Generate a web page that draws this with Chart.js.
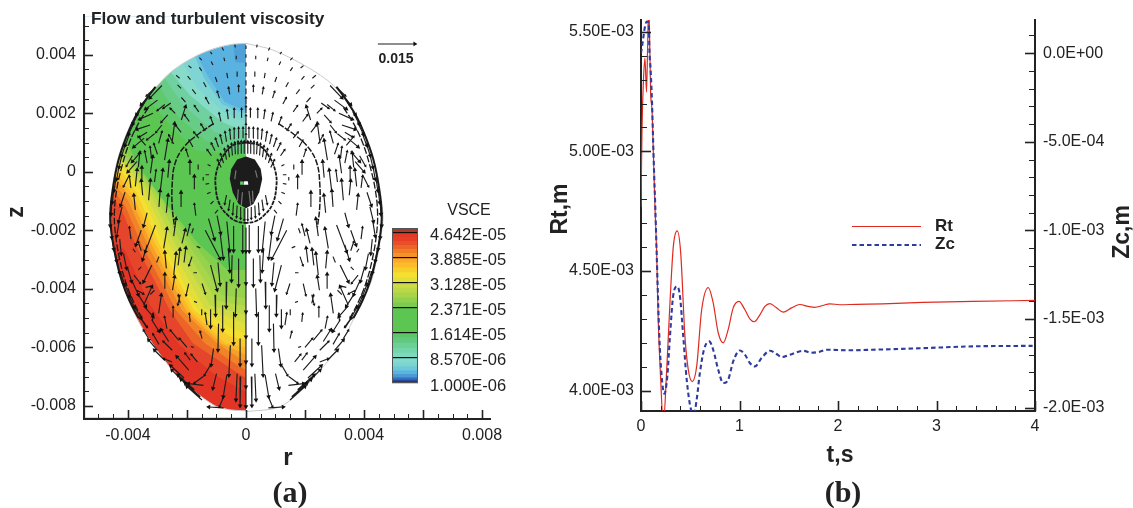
<!DOCTYPE html>
<html><head><meta charset="utf-8">
<script src="https://cdn.jsdelivr.net/npm/chart.js@4"></script>
<style>
html,body{margin:0;padding:0;background:#fff;width:1133px;height:508px;overflow:hidden}
.p{position:absolute}
</style></head><body>
<div class="p" style="left:0;top:0;width:520px;height:508px"><canvas id="a"></canvas></div>
<div class="p" style="left:385px;top:200px;width:125px;height:200px"><canvas id="cb"></canvas></div>
<div class="p" style="left:540px;top:0;width:593px;height:508px"><canvas id="b"></canvas></div>
<script>
// ---------- panel (b) : time traces ----------
const rtTime=[0,.01,.025,.04,.056,.068,.076,.084,.098,.112,.125,.142,.159,.175,.2,.226,.261,.294,.328,.368,.403,.446,.48,.52,.565,.616,.683,.733,.784,.835,.885,.936,.994,1.055,1.105,1.149,1.207,1.258,1.308,1.376,1.443,1.528,1.613,1.697,1.765,1.846,1.917,2.018,2.188,2.454,2.86,3.367,4];
const rtValues=[4.768,5.089,5.298,5.39,5.248,5.453,5.59,5.54,5.244,5.173,5.0,4.768,4.576,4.296,4.046,3.858,4.088,4.367,4.602,4.668,4.576,4.227,4.088,4.038,4.101,4.338,4.431,4.367,4.242,4.2,4.255,4.346,4.373,4.338,4.3,4.288,4.317,4.352,4.364,4.346,4.328,4.346,4.36,4.352,4.348,4.356,4.363,4.359,4.361,4.363,4.369,4.373,4.377];
const zcTime=[0,.016,.04,.058,.071,.081,.084,.098,.112,.122,.132,.145,.159,.186,.21,.236,.267,.294,.328,.368,.396,.429,.464,.504,.538,.565,.598,.639,.693,.733,.784,.835,.885,.936,1.004,1.055,1.105,1.156,1.224,1.308,1.376,1.427,1.511,1.646,1.731,1.815,1.883,2.119,2.353,2.86,3.367,3.976];
const zcValues=[0,.0575,.149,.178,.176,.149,.046,-.095,-.281,-.471,-.658,-.867,-1.126,-1.598,-1.824,-1.921,-1.824,-1.598,-1.363,-1.316,-1.373,-1.598,-1.842,-2.002,-2.034,-1.955,-1.803,-1.673,-1.626,-1.673,-1.786,-1.861,-1.842,-1.739,-1.677,-1.701,-1.748,-1.767,-1.72,-1.679,-1.697,-1.714,-1.701,-1.679,-1.69,-1.684,-1.673,-1.676,-1.673,-1.664,-1.654,-1.651];
const rtLabels=['4.00E-03','4.50E-03','5.00E-03','5.50E-03'];
const zcLabels=['-2.0E-03','-1.5E-03','-1.0E-03','-5.0E-04','0.0E+00'];

// ---------- panel (a) : colour bands, r and z in units of 1e-3 ----------
const outlineLeftR=[0,-.45,-.88,-1.28,-1.67,-2.08,-2.47,-2.77,-3.03,-3.33,-3.59,-3.83,-4.04,-4.23,-4.38,-4.48,-4.54,-4.58,-4.59,-4.57,-4.51,-4.41,-4.27,-4.07,-3.83,-3.56,-3.25,-2.93,-2.58,-2.2,-1.8,-1.4,-.99,-.5,0];
const outlineLeftZ=[4.39,4.36,4.27,4.14,3.97,3.74,3.47,3.2,2.91,2.57,2.2,1.77,1.32,.8,.3,-.2,-.63,-1,-1.41,-1.95,-2.44,-3.03,-3.59,-4.17,-4.73,-5.26,-5.75,-6.22,-6.67,-7.08,-7.46,-7.77,-8.03,-8.14,-8.17];
const outlineRightR=[0,.92,2.06,2.95,3.75,4.34,4.64,4.58,4.24,3.66,3.15,2.06,1.15,0];
const outlineRightZ=[4.39,4.16,3.59,2.96,1.88,.4,-1.41,-2.16,-3.76,-5,-5.98,-7.29,-8.03,-8.2];
const bandColors=['#59b2e0','#6ac4dc','#7fd4d4','#86dcc8','#6fd0a0','#66cc86','#5fc96c','#5cc653','#84ce4e','#96d24c','#a8d64a','#bcd948','#cfdc45','#e3de3a','#f4e030','#f8cc2c','#fbb92a','#f6a029','#f28428','#ec6428','#e5452a','#e23525'];
const bandR=[
[-.44,-.37,0],[-1.8,-1.29,-.71,0],[-1.9,-1.42,-.81,0],[-2.31,-1.63,-.75,0],[-2.75,-1.9,-.81,0],[-2.9,-2.1,-1.1,-.3,0],
[-3.08,-2.31,-1.39,-.71,0],[-3.42,-2.58,-1.73,0],[-4.34,-3.66,-2.92,-1.63,-.61,0],[-4.48,-3.76,-3,-1.8,-.71,0],[-4.61,-3.86,-3.08,-1.97,-.81,0],[-4.7,-3.93,-3.2,-2.19,-1,0],
[-4.78,-4,-3.32,-2.41,-1.22,0],[-4.86,-4.1,-3.45,-2.61,-1.42,-.5,0],[-4.95,-4.2,-3.59,-2.81,-1.63,-.37,0],[-4.95,-4.27,-3.71,-2.95,-1.76,-.54,0],[-4.95,-4.34,-3.83,-3.08,-1.9,-.71,0],[-4.95,-4.39,-3.91,-3.22,-2.03,-.85,0],
[-4.95,-4.44,-4,-3.36,-2.17,-.98,0],[-4.95,-4.49,-4.07,-3.56,-2.37,-1.39,-.3,0],[-4.95,-4.54,-4.14,-3.76,-2.58,-1.8,-.54,0],[-4.95,-4.1,-3.25,-2.24,-1.05,0]];
const bandZ=[
[4.5,3.75,3.72],[4.26,3.27,2.38,2.08],[4.33,3.2,2.31,1.97],[3.99,2.86,2.04,1.7],[3.65,2.62,1.7,1.36],[3.4,2.25,1.39,1.05,1.05],
[3.14,1.9,1.08,.81,.74],[2.62,1.6,.74,.57],[1.6,.23,-.8,-2.44,-3.36,-3.36],[1.34,.23,-.71,-2.44,-3.8,-3.85],[1.08,.23,-.63,-2.44,-4.22,-4.32],[.91,.23,-.63,-2.44,-4.4,-4.6],
[.74,.23,-.63,-2.44,-4.56,-4.9],[.57,.23,-.63,-2.44,-4.65,-5,-5.2],[.4,.23,-.63,-2.44,-4.73,-5.41,-5.52],[.23,.06,-.71,-2.44,-4.73,-5.63,-5.76],[.06,-.11,-.8,-2.44,-4.73,-5.86,-6],[-.11,-.28,-.88,-2.44,-4.73,-5.86,-6.25],
[-.28,-.45,-.97,-2.44,-4.73,-5.86,-6.51],[-.45,-.62,-1.22,-2.44,-4.73,-5.86,-6.6,-6.78],[-.63,-.8,-1.48,-2.44,-4.73,-5.86,-6.71,-7.05],[-1.99,-2.68,-4.56,-5.93,-6.95,-7.53]];
const coreR=[0,.3,.5,.55,.45,.25,0];
const coreZ=[.52,.42,.1,-.25,-.7,-1.1,-1.25];
const ringA=[[1.1,1.65],[1.6,1.3],[2.1,.85],[2.4,.3],[2.5,-.4],[2.5,-1.2],[2.42,-1.9]];
const ringB=[[0,1],[.45,.9],[.8,.5],[1,0],[1.03,-.5],[.9,-1.1],[.6,-1.5],[.3,-1.7],[0,-1.75]];
const ringEdge=[[3.07,2.9],[3.4,2.45],[3.75,1.88],[4.05,1.2],[4.32,.4],[4.5,-.5],[4.6,-1.42],[4.55,-2.16],[4.4,-3],[4.2,-3.76],[3.95,-4.4],[3.64,-5]];
const ringEdgeInner=[[3.3,2.2],[3.62,1.7],[3.95,1],[4.2,.2],[4.38,-.6],[4.46,-1.42],[4.42,-2.16],[4.28,-3],[4.08,-3.76],[3.83,-4.4],[3.5,-5.05]];
const coreStripes=[[.1,-.65,.06,-.5],[.22,-.65,.02,-.4],[-.12,-.7,-.04,-.45],[-.26,-.6,-.03,-.4],[.32,.05,.06,-.25],[-.34,.05,-.04,-.3]];

// ---------- velocity vectors, right half [r, z, dr, dz]; the left half mirrors it ----------
const flowTop=[[.36,4.25,.02,.1],[.76,4.15,.05,.1],[1.15,4.02,.06,.08],[1.5,3.82,.08,.08],[1.85,3.55,.1,.08],[2.25,3.2,.12,.1],
[.33,3.85,0,.12],[.72,3.78,.03,.12],[1.12,3.65,.06,.12],[1.5,3.45,.08,.12],[1.88,3.15,.1,.12],[2.2,2.85,.12,.12],
[.3,3.25,0,.18],[.62,3.2,.03,.18],[.98,3.07,.06,.17],[1.35,2.9,.09,.16],[1.7,2.66,.12,.16],[2.05,2.38,.14,.16],[2.4,2,.16,.16],
[.25,2.72,0,.22],[.55,2.65,.04,.22],[.9,2.52,.07,.22],[1.25,2.32,.11,.2],[1.6,2.05,.14,.2],[1.92,1.72,.16,.22],[2.2,1.35,.18,.24],[2.45,.95,.16,.3],
[.15,1.85,0,.3],[.38,1.85,.02,.3],[.6,1.8,.04,.3],[.85,1.72,.06,.28],[1.1,1.6,.1,.26],[1.38,1.4,.14,.22],[1.6,1.15,.16,.2],[1.8,.85,.12,.22],[1.95,.5,.08,.26]];
const flowHatch=[[.1,1.15,0,.35],[.24,1.15,.01,.35],[.38,1.13,.02,.35],[.52,1.1,.03,.34],[.66,1.03,.05,.33],[.8,.95,.07,.3],[.93,.85,.1,.28],[1.05,.72,.12,.25],[1.17,.55,.14,.2],
[.06,.62,0,.42],[.16,.62,0,.42],[.26,.61,.01,.42],[.36,.6,.02,.4],[.46,.56,.03,.4],[.56,.5,.05,.38],[.66,.42,.07,.36],[.76,.3,.1,.3],[.84,.15,.12,.25],
[1.2,.2,.1,.05],[1.25,-.1,.12,0],[1.25,-.4,.12,-.02],[1.2,-.7,.12,-.05],[1.1,-1,.1,-.1],[.95,-1.3,.1,-.12],
[.06,-1.25,0,-.4],[.18,-1.2,0,-.4],[.3,-1.15,.02,-.4],[.42,-1.05,.03,-.4],[.54,-.95,.05,-.35],[.66,-.8,.06,-.3]];
const flowAxis=[[0,-1.9,0,-.83],[0,-2.73,0,-1.09],[0,-3.82,0,-.97],[0,-4.79,0,-.85],[0,-5.64,0,-.86],[0,-6.5,0,-.85],[0,-7.35,0,-.68],
[0,4.2,0,.12],[0,3.9,0,.12],[0,3.6,0,.14],[0,3.25,0,.16],[0,2.95,0,.18],[0,2.65,0,.2],[0,2.3,0,.24],[0,2,0,.24],[0,1.65,0,.28],[0,1.35,0,.28],[0,1,0,.3]];
const flowDown=[[.11,-1.82,0,-.91],[.25,-2.96,0,-.93],[.47,-2.85,.02,-.88],[.42,-1.85,0,-.85],[.87,-2.16,-.1,-.8],[1.27,-1.6,-.2,-.7],[.65,-3.76,.02,-.86],[.33,-3.99,.03,-.91],[.79,-4.56,0,-.85],[.93,-5.19,.02,-.91],[.42,-4.79,0,-1.08],[.53,-5.93,.05,-1.03],[.65,-6.95,.12,-.74],[.76,-7.69,.14,-.34],[1.1,-6.04,.08,-.57],[1.21,-6.61,.2,-.35],[1.45,-7,.3,-.22],[1.38,-2,-.5,-.97],[1.2,-3.19,-.22,-.85],[.65,-1.7,-.1,-1],[.98,-1.5,-.12,-.6],
[1.05,-4.2,-.02,-.7],[1.2,-4.7,0,-.6],[.6,-2.6,-.05,-.8],[.2,-5.7,0,-.9],[.3,-6.9,.04,-.9],[.95,-3.1,-.07,-.75],[1.5,-4.7,0,-.2],[1,-6.9,.12,-.5],[.18,-7,.02,-1]];
const flowBottom=[[.76,-8.07,.5,.03],[1.49,-7.8,.51,.46],[1.55,-7.69,.51,.46],[1.44,-7.3,.51,.06],[2.06,-7.24,.45,.46],[2.5,-6.5,.28,.11],[1.94,-6.78,.4,.46],[1.89,-6.44,.17,.23],[2.28,-5.76,.28,.34],[2.62,-5.8,.25,.4],[3.3,-5.7,.17,.28],[2.1,-7.05,.45,.42],
[2.95,-5.9,.2,.35],[2.5,-6.1,.3,.3],[2,-6,.25,.3],[1.65,-6.5,.2,.25],[2.75,-6.45,.35,.35],[3,-6.1,.3,.35],[1.75,-7.45,.55,.5],[1.7,-7.55,.5,.45],[3.35,-5.35,.22,.35]];
const flowMid=[[2.79,-2.62,-.11,.68],[2.17,-2.45,-.11,.46],[2.45,-3.53,-.08,.74],[2.49,-4.05,-.07,.46],[2.96,-4.84,-.09,.63],[3.47,-4.56,-.28,.63],[3.17,-5.13,-.02,.28],[2.68,-5.36,.08,.4],[2.23,-4.5,.06,.28],[2.45,-4.96,.02,.34],[1.89,-5.13,.03,.28],[1.32,-5.24,.06,.4],[1.49,-5.7,.06,.23],[1.49,-3.82,-.11,-.34],[1.55,-2.6,.12,.05],[1.66,-3.45,.12,0],[1.66,-4.47,.1,.04],[1.77,-6,.1,.03],[1.83,-2.9,.1,-.3],[1.78,-1.93,.06,-.17],[1.94,-3.82,.09,-.4],[2.23,-4.2,.08,-.34],
[2.51,.97,-.09,.68],[2.76,.4,-.11,.68],[2.96,.97,-.11,.4],[3.24,-.05,-.08,.57],[2.9,-.62,-.08,.68],[3.3,-.97,-.06,.68],[2.19,1.77,-.14,.46],[3.75,-.5,-.06,.57],
[3.07,-1.82,.34,-.91],[3.19,-3.19,.28,-.57],[3.8,-3.53,-.22,-.28],[3.7,-4.05,-.22,-.12],[3.4,.9,.25,.3],[3.65,.15,-.05,.5],[3.5,-.8,.05,.5],[3.75,-1.3,.05,.5],[2.7,-1.4,-.06,.6],[2.2,-1.2,0,.5],[1.75,-.6,0,.45],[1.7,-1.5,.05,.4],[3.9,-2.3,.05,.4],[3.55,-2.7,.1,.3],
[3.35,1.35,.25,-.15],[3.1,1.3,.25,-.2],[2.85,1.6,.2,-.25],[2.65,1.95,.22,-.25],[2.55,2.35,.25,-.18],[2.75,2.3,.25,-.2],[3,.6,.12,.35],[3.35,.3,.08,.4],[3.85,.55,.2,-.35],[3.9,-.55,.05,.4],[3.1,-.35,-.05,.4],[2.65,-.2,-.05,.55],[3.55,-.3,-.02,.45],[3.2,.45,.05,.4],
[2.95,-1.2,-.04,.55],[2.45,-2.2,-.08,.6],[2.95,-2.9,.08,-.2],[3.35,-1.4,.12,-.45],[3.55,-2,.18,-.5],[3.35,-2.5,.15,-.5],[3.75,-2.75,.08,.12],[3.65,-3.35,-.1,.1],[3.4,-3.95,-.2,.05],[3.25,-4.2,-.15,.15],[2.7,-3.3,.05,.55],[2.75,-4,0,.5],[2.1,-3.1,-.06,.5],[2.3,-3.2,-.06,.55],[2,-2.2,-.1,.4],[1.9,-.1,0,.45],[1.45,-.3,0,.12],[1.6,.1,.02,.15]];
const flowEdge=[[3.05,2.9,.32,-.3],[3.25,2.65,.3,-.35],[3.45,2.35,.26,-.4],[3.62,2.05,.22,-.42],[3.78,1.7,.2,-.42],[3.93,1.35,.16,-.45],[4.07,1,.14,-.45],[4.2,.6,.1,-.45],[4.3,.2,.08,-.45],[4.4,-.2,.07,-.45],[4.48,-.6,.05,-.45],[4.55,-1,.02,-.45],[4.6,-1.4,0,-.45],[4.58,-1.8,-.03,-.45],[4.54,-2.2,-.06,-.45],[4.46,-2.6,-.08,-.45],[4.38,-3,-.1,-.45],[4.26,-3.4,-.14,-.45],[4.12,-3.8,-.17,-.45],[3.98,-4.2,-.2,-.42],[3.78,-4.6,-.22,-.4],[3.6,-4.95,-.25,-.35],
[2.85,2.95,.4,-.42],[3,2.45,.4,-.3],[3.15,2,.45,-.2],[3.25,1.6,.45,-.15],[3.45,1.15,.35,-.3],[3.55,.7,.3,-.35],[3.7,.35,.3,-.35],[3.95,-.1,.2,-.4],[4.1,-.7,.15,-.45],[4.2,-1.2,.12,-.5],[4.3,-1.7,.08,-.5],[4.28,-2.3,-.05,-.5],[4.15,-2.8,-.1,-.5],[4.02,-3.25,-.14,-.5],[3.85,-3.75,-.2,-.45],[3.65,-4.2,-.25,-.4],[3.45,-4.6,-.3,-.35],[3.2,-5.05,-.25,-.4]];
const refVector=[4.47,4.37,1.25,0];

// ---------- colour bar (edges in units of 1e-6) ----------
const vsceLevels=[1e-6,8.57e-6,1.614e-5,2.371e-5,3.128e-5,3.885e-5,4.642e-5];
const vsceLabels=['1.000E-06','8.570E-06','1.614E-05','2.371E-05','3.128E-05','3.885E-05','4.642E-05'];
const barEdges=[1,1.4,1.9,2.6,3.6,4.7,5.9,7.2,8.57,10,11.5,13,14.6,16.14,23.71,25.2,26.7,28.2,29.7,31.28,32.8,34.3,35.8,37.3,38.85,40.1,41.4,42.6,43.8,45.1,46.42,47.8];
const barColors=['#1a2a80','#2a4aa0','#3a70c0','#4a9ad6','#5ab5de','#6cc8d8','#7ad6d0','#80dccc','#7cdac0','#74d4aa','#6ccf96','#62ca80','#5cc668','#5dc653','#7acb4e','#90d04c','#a8d44a','#bcd848','#cddc44','#e4de38','#f4e02e','#f8cf2a','#fbbb2a','#fca82a','#f59228','#f07c28','#ec6428','#e84e28','#e53e26','#e43824','#a83a2a'];

const INK='#222';
const SANS='"Liberation Sans",Arial,sans-serif';
Chart.defaults.animation=false;
Chart.defaults.responsive=false;
Chart.defaults.font.family=SANS;
Chart.defaults.color=INK;

const sizeCanvas=(id,w,h)=>{const c=document.getElementById(id);c.width=w;c.height=h;c.style.width=w+'px';c.style.height=h+'px';return c;};
const steps=(from,to,step)=>{const o=[];const n=Math.round((to-from)/step);for(let i=0;i<=n;i++)o.push(+(from+i*step).toFixed(7));return o;};
const noPadX=s=>{s.paddingLeft=0;s.paddingRight=0;};
const noPadY=s=>{s.paddingTop=0;s.paddingBottom=0;};

// inward tick marks, placed by each scale
const inwardTicks=spec=>({id:'inwardTicks',afterDatasetsDraw(chart){
  const ctx=chart.ctx,a=chart.chartArea;ctx.save();ctx.strokeStyle=INK;
  for(const id in spec){const s=chart.scales[id],m=spec[id].major;
    for(const t of s.ticks){
      const q=t.value/m,maj=Math.abs(q-Math.round(q))<1e-6,len=maj?spec[id].long:spec[id].short;
      const p=Math.round(s.getPixelForValue(t.value))+.5;
      ctx.lineWidth=maj?1.6:1;ctx.beginPath();
      if(s.axis==='x'){ctx.moveTo(p,a.bottom);ctx.lineTo(p,a.bottom-len);}
      else if(s.position==='right'){ctx.moveTo(a.right,p);ctx.lineTo(a.right-len,p);}
      else{ctx.moveTo(a.left,p);ctx.lineTo(a.left+len,p);}
      ctx.stroke();}}
  ctx.restore();}});
// free-standing text
const textItems=items=>({id:'textItems',afterDraw(chart){
  const ctx=chart.ctx;
  for(const t of items){ctx.save();ctx.translate(t.x,t.y);if(t.rot)ctx.rotate(t.rot);ctx.font=t.font;ctx.fillStyle=t.color||INK;ctx.textAlign=t.align||'center';ctx.textBaseline='middle';ctx.fillText(t.text,0,0);ctx.restore();}
}});

// ---------- panel (a) datasets ----------
const aSets=[];
const pts=(R,Z)=>R.map((r,i)=>({x:r/1000,y:Z[i]/1000}));
const poly=(R,Z,color)=>aSets.push({data:pts(R,Z),showLine:true,fill:'shape',backgroundColor:color,borderWidth:0,pointRadius:0,tension:0});
const FLOOR=-8.41,LEFT=-5.45,TOP=5.3;
poly([0,LEFT,LEFT,0],[TOP,TOP,FLOOR,FLOOR],'#4f9fd8');
bandColors.forEach((c,i)=>{const R=bandR[i],Z=bandZ[i];
  poly([...R,0,LEFT,LEFT],[...Z,FLOOR,FLOOR,Z[0]],c);});
// white outside the left half of the section
poly([...outlineLeftR,0,LEFT,LEFT,0],[...outlineLeftZ,FLOOR,FLOOR,TOP,TOP],'#ffffff');
aSets.push({data:pts(outlineRightR,outlineRightZ),showLine:true,borderColor:'#c9c9c9',borderWidth:1,pointRadius:0,tension:.3,fill:false});
aSets.push({data:pts(outlineLeftR,outlineLeftZ),showLine:true,borderColor:'#c9c9c9',borderWidth:1,pointRadius:0,tension:.3,fill:false});
// core
poly([...coreR,...coreR.slice().reverse().map(v=>-v)],[...coreZ,...coreZ.slice().reverse()],'#1c1c1c');
// flux-surface rings traced by densely packed vectors
const ringStyle=[[ringA,1.5,[6,1.5]],[ringB,1.8,[4,1]],[ringEdge,2,[]],[ringEdgeInner,1.3,[7,2]]];
for(const [ring,w,dash] of ringStyle) for(const sign of [1,-1])
  aSets.push({data:ring.map(p=>({x:sign*p[0]/1000,y:p[1]/1000})),showLine:true,borderColor:'#1a1a1a',borderWidth:w,borderDash:dash,pointRadius:0,tension:.4,fill:false});
// arrows
const allFlow=[...flowTop,...flowHatch,...flowAxis,...flowDown,...flowBottom,...flowMid,...flowEdge];
const arrowData=[],arrowRot=[],arrowRad=[];
const addArrow=(r,z,dr,dz)=>{
  const len=Math.hypot(dr,dz);
  arrowData.push({x:r/1000,y:z/1000},{x:(r+dr)/1000,y:(z+dz)/1000},{x:null,y:null});
  arrowRot.push(0,Math.atan2(dr,dz)*180/Math.PI,0);
  arrowRad.push(0,len<.22?0:len<.45?1.8:2.7,0);
};
for(const [r,z,dr,dz] of allFlow){addArrow(r,z,dr,dz);if(r!==0)addArrow(-r,z,-dr,dz);}
addArrow(...refVector);
aSets.push({data:arrowData,showLine:true,spanGaps:false,borderColor:'#1d1d1d',borderWidth:1.15,fill:false,tension:0,
  pointStyle:'triangle',pointRadius:arrowRad,pointRotation:arrowRot,pointBackgroundColor:'#111',pointBorderWidth:0,pointBorderColor:'#111'});
// grey streaks in the core and its eye
const stripeData=[];for(const [r,z,dr,dz] of coreStripes)stripeData.push({x:r/1000,y:z/1000},{x:(r+dr)/1000,y:(z+dz)/1000},{x:null,y:null});
aSets.push({data:stripeData,showLine:true,spanGaps:false,borderColor:'#777',borderWidth:1.2,pointRadius:0,fill:false});
poly([-.06,.06,.08,-.08],[-.32,-.32,-.44,-.44],'#ffffff');
poly([-.2,-.08,-.08,-.2],[-.33,-.33,-.44,-.44],'#63c86a');
aSets.forEach((d,i)=>{d.order=aSets.length-i;});

const rTickVals=steps(-.005,.008,.0005),zTickVals=steps(-.008,.005,.0005);
const rLabelled=new Set([-.004,0,.004,.008]),zLabelled=new Set([.004,.002,0,-.002,-.004,-.006,-.008]);
const tickFont={size:16};
new Chart(sizeCanvas('a',520,508),{type:'scatter',data:{datasets:aSets},
 options:{layout:{padding:{top:15,right:30,left:0,bottom:0}},
  plugins:{legend:{display:false},tooltip:{enabled:false}},
  scales:{
   x:{type:'linear',min:-.00549,max:.00827,grid:{display:false,drawTicks:false},border:{color:INK,width:2},
      afterBuildTicks:s=>{s.ticks=rTickVals.map(v=>({value:v}));},afterFit:s=>{s.height=89;noPadX(s);},
      ticks:{autoSkip:false,maxRotation:0,padding:7,font:tickFont,color:INK,callback:v=>rLabelled.has(+(+v).toFixed(4))?String(+(+v).toFixed(4)):''}},
   y:{type:'linear',min:-.00845,max:.00536,grid:{display:false,drawTicks:false},border:{color:INK,width:2},
      afterBuildTicks:s=>{s.ticks=zTickVals.map(v=>({value:v}));},afterFit:s=>{s.width=84;noPadY(s);},
      ticks:{autoSkip:false,padding:8,font:tickFont,color:INK,callback:v=>zLabelled.has(+(+v).toFixed(4))?String(+(+v).toFixed(4)):''}}
  }},
 plugins:[inwardTicks({x:{major:.002,long:9,short:5},y:{major:.002,long:9,short:5}}),
  textItems([
   {text:'Flow and turbulent viscosity',x:91,y:19,font:'bold 17.3px '+SANS,align:'left'},
   {text:'0.015',x:396,y:59,font:'bold 14px '+SANS},
   {text:'VSCE',x:469,y:211,font:'16px '+SANS},
   {text:'r',x:288,y:458,font:'bold 24px '+SANS},
   {text:'z',x:17,y:212,font:'bold 23px '+SANS,rot:-Math.PI/2},
   {text:'(a)',x:290,y:494,font:'bold 30px "Liberation Serif",serif'}
  ])]});

// ---------- colour bar chart ----------
const barSets=barColors.map((c,i)=>({data:[[barEdges[i]*1e-6,barEdges[i+1]*1e-6]],backgroundColor:c,borderWidth:0,barPercentage:1,categoryPercentage:1}));
new Chart(sizeCanvas('cb',125,200),{type:'bar',data:{labels:['VSCE'],datasets:barSets},
 options:{layout:{padding:{top:28,left:7,right:0,bottom:17}},
  plugins:{legend:{display:false},tooltip:{enabled:false}},
  datasets:{bar:{grouped:false}},
  scales:{
   x:{display:false,stacked:false},
   y:{position:'right',min:1e-6,max:4.78e-5,border:{display:false},
      grid:{color:'#111',lineWidth:1.2,z:1,drawTicks:false},
      afterBuildTicks:s=>{s.ticks=vsceLevels.map(v=>({value:v}));},afterFit:s=>{s.width=92;noPadY(s);},
      ticks:{autoSkip:false,padding:12,labelOffset:3,font:{size:16.5},color:INK,callback:(v,i)=>vsceLabels[i]}}
  }},
 plugins:[{id:'barFrame',afterDraw(c){const a=c.chartArea,x=c.ctx;x.save();x.strokeStyle='#555';x.lineWidth=1;x.strokeRect(a.left+.5,a.top+.5,a.right-a.left-1,a.bottom-a.top-1);x.restore();}}]});

// ---------- panel (b) chart ----------
const rtTickVals=steps(4,5.5,.1).map(v=>+(v/1000).toFixed(6));
const zcTickVals=steps(-2,.1,.1).map(v=>+(v/1000).toFixed(6));
const tTickVals=steps(0,4,.2);
new Chart(sizeCanvas('b',593,508),{type:'line',
 data:{datasets:[
  {label:'Zc',yAxisID:'y2',data:zcTime.map((t,i)=>({x:t,y:zcValues[i]/1000})),borderColor:'#2f3c9e',borderWidth:2.1,borderDash:[4.5,3],pointRadius:0,cubicInterpolationMode:'monotone'},
  {label:'Rt',yAxisID:'y',data:rtTime.map((t,i)=>({x:t,y:rtValues[i]/1000})),borderColor:'#e02a20',borderWidth:1.2,pointRadius:0,cubicInterpolationMode:'monotone'}
 ]},
 options:{layout:{padding:{top:20,left:0,right:0,bottom:0}},
  plugins:{legend:{display:false},tooltip:{enabled:false}},
  scales:{
   x:{type:'linear',min:0,max:4,grid:{display:false,drawTicks:false},border:{color:INK,width:2},
      afterBuildTicks:s=>{s.ticks=tTickVals.map(v=>({value:v}));},afterFit:s=>{s.height=97;noPadX(s);},
      ticks:{autoSkip:false,maxRotation:0,padding:6,font:tickFont,color:INK,callback:v=>Number.isInteger(+(+v).toFixed(3))?String(Math.round(v)):''}},
   y:{type:'linear',position:'left',min:.003915,max:.005549,grid:{display:false,drawTicks:false},border:{color:INK,width:2},
      afterBuildTicks:s=>{s.ticks=rtTickVals.map(v=>({value:v}));},afterFit:s=>{s.width=101;noPadY(s);},
      ticks:{autoSkip:false,padding:7,labelOffset:0,font:tickFont,color:INK,callback:v=>{const k=Math.round(v*1e5);return k%50===0?rtLabels[(k-400)/50]||'':'';}}},
   y2:{type:'linear',position:'right',min:-.0020186,max:.000187,grid:{display:false,drawTicks:false},border:{color:INK,width:2},
      afterBuildTicks:s=>{s.ticks=zcTickVals.map(v=>({value:v}));},afterFit:s=>{s.width=98;noPadY(s);},
      ticks:{autoSkip:false,padding:8,font:tickFont,color:INK,callback:v=>{const k=Math.round(v*1e4);return (k%5===0&&k<=0)?zcLabels[(k+20)/5]||'':'';}}}
  }},
 plugins:[inwardTicks({x:{major:1,long:10,short:5},y:{major:.0005,long:10,short:6},y2:{major:.0005,long:10,short:6}}),
  {id:'keyLines',afterDatasetsDraw(c){const x=c.ctx;const ds=c.data.datasets;x.save();
    x.strokeStyle=ds[1].borderColor;x.lineWidth=1.2;x.beginPath();x.moveTo(312,226.5);x.lineTo(381,226.5);x.stroke();
    x.strokeStyle=ds[0].borderColor;x.lineWidth=2;x.setLineDash([4.5,3]);x.beginPath();x.moveTo(312,245);x.lineTo(381,245);x.stroke();x.restore();}},
  textItems([
   {text:'Rt',x:395,y:226,font:'bold 17px '+SANS,align:'left'},
   {text:'Zc',x:395,y:244,font:'bold 17px '+SANS,align:'left'},
   {text:'Rt,m',x:21,y:209,font:'bold 23px '+SANS,rot:-Math.PI/2},
   {text:'Zc,m',x:583,y:232,font:'bold 23px '+SANS,rot:-Math.PI/2},
   {text:'t,s',x:300,y:456,font:'bold 23px '+SANS},
   {text:'(b)',x:303,y:494,font:'bold 30px "Liberation Serif",serif'}
  ])]});
</script>
</body></html>
